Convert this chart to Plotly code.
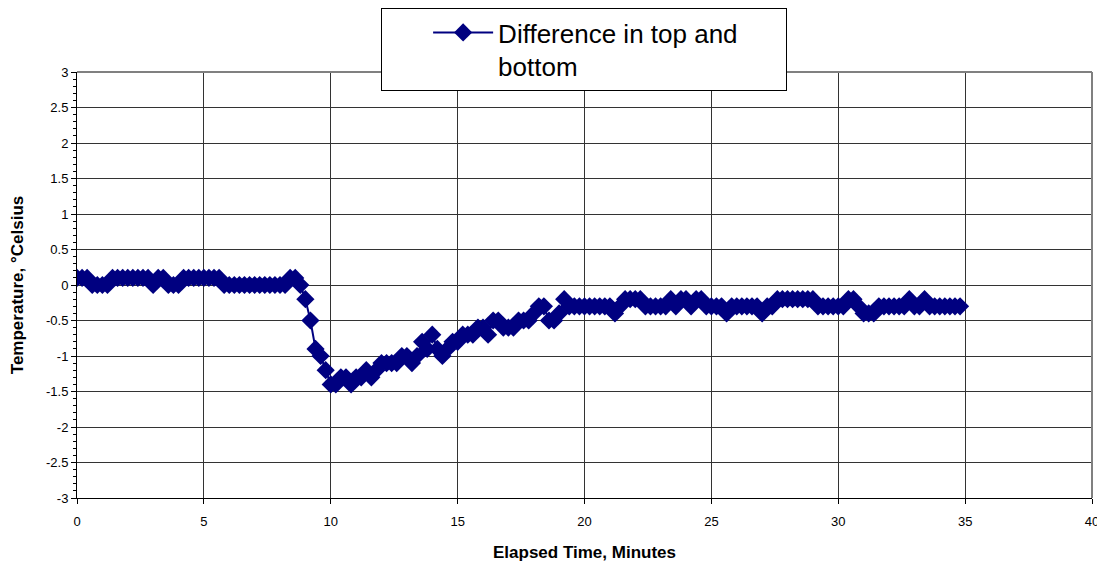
import plotly.graph_objects as go

# Elapsed time sampled every 0.2 minutes, 0 .. 34.8
time_step = 0.2
diff_values = [
    0.1, 0.1, 0.1, 0.0, 0.0, 0.0, 0.0, 0.1, 0.1, 0.1,    # 0.0 - 1.8
    0.1, 0.1, 0.1, 0.1, 0.1, 0.0, 0.1, 0.1, 0.0, 0.0,    # 2.0 - 3.8
    0.0, 0.1, 0.1, 0.1, 0.1, 0.1, 0.1, 0.1, 0.1, 0.0,    # 4.0 - 5.8
    0.0, 0.0, 0.0, 0.0, 0.0, 0.0, 0.0, 0.0, 0.0, 0.0,    # 6.0 - 7.8
    0.0, 0.0, 0.1, 0.1, 0.0, -0.2, -0.5, -0.9, -1.0, -1.2,  # 8.0 - 9.8
    -1.4, -1.4, -1.3, -1.3, -1.4, -1.3, -1.3, -1.2, -1.3, -1.2,  # 10.0 - 11.8
    -1.1, -1.1, -1.1, -1.1, -1.0, -1.0, -1.1, -1.0, -0.8, -0.9,  # 12.0 - 13.8
    -0.7, -0.9, -1.0, -0.9, -0.8, -0.8, -0.7, -0.7, -0.7, -0.6,  # 14.0 - 15.8
    -0.6, -0.7, -0.5, -0.5, -0.6, -0.6, -0.6, -0.5, -0.5, -0.5,  # 16.0 - 17.8
    -0.4, -0.3, -0.3, -0.5, -0.5, -0.4, -0.2, -0.3, -0.3, -0.3,  # 18.0 - 19.8
    -0.3, -0.3, -0.3, -0.3, -0.3, -0.3, -0.4, -0.3, -0.2, -0.2,  # 20.0 - 21.8
    -0.2, -0.2, -0.3, -0.3, -0.3, -0.3, -0.3, -0.2, -0.3, -0.2,  # 22.0 - 23.8
    -0.2, -0.3, -0.2, -0.2, -0.3, -0.3, -0.3, -0.3, -0.4, -0.3,  # 24.0 - 25.8
    -0.3, -0.3, -0.3, -0.3, -0.3, -0.4, -0.3, -0.3, -0.2, -0.2,  # 26.0 - 27.8
    -0.2, -0.2, -0.2, -0.2, -0.2, -0.2, -0.3, -0.3, -0.3, -0.3,  # 28.0 - 29.8
    -0.3, -0.3, -0.2, -0.2, -0.3, -0.4, -0.4, -0.4, -0.3, -0.3,  # 30.0 - 31.8
    -0.3, -0.3, -0.3, -0.3, -0.2, -0.3, -0.3, -0.2, -0.3, -0.3,  # 32.0 - 33.8
    -0.3, -0.3, -0.3, -0.3, -0.3,                                # 34.0 - 34.8
]
elapsed_minutes = [round(i * time_step, 2) for i in range(len(diff_values))]

series_name = "Difference in top and<br>bottom"
x_title = "Elapsed Time, Minutes"
y_title = "Temperature, °Celsius"
y_tick_vals = [3, 2.5, 2, 1.5, 1, 0.5, 0, -0.5, -1, -1.5, -2, -2.5, -3]
y_tick_text = ["3", "2.5", "2", "1.5", "1", "0.5", "0", "-0.5", "-1", "-1.5", "-2", "-2.5", "-3"]
x_tick_vals = [0, 5, 10, 15, 20, 25, 30, 35, 40]

FONT = "Liberation Sans, Arial, sans-serif"
NAVY = "#000080"

fig = go.Figure()
fig.add_trace(go.Scatter(
    x=elapsed_minutes, y=diff_values, mode="lines+markers", name=series_name,
    line=dict(color=NAVY, width=2),
    marker=dict(symbol="diamond", size=14, color=NAVY),
))

# the page body adds an 8px offset, so the figure is 8px smaller than the window
fig.update_layout(
    width=1097, height=562,
    margin=dict(l=69, r=13, t=64, b=72, autoexpand=False),
    paper_bgcolor="white", plot_bgcolor="white",
    font=dict(family=FONT, color="black"),
    showlegend=True,
    legend=dict(
        x=0.2995, y=1.0 + 64 / 426, xanchor="left", yanchor="top",
        orientation="h",
        bordercolor="black", borderwidth=1, bgcolor="white",
        font=dict(size=26, family=FONT, color="black"),
        title=dict(text="&nbsp;" * 5, side="left", font=dict(size=26, family=FONT)),
        valign="top", itemwidth=60,
        entrywidth=282, entrywidthmode="pixels",
        tracegroupgap=0,
    ),
    xaxis=dict(
        range=[0, 40], tickvals=x_tick_vals, ticktext=[str(v) for v in x_tick_vals],
        showgrid=True, gridcolor="#333333", gridwidth=1,
        showline=True, linecolor="black", linewidth=1,
        ticks="outside", ticklen=5, tickcolor="black",
        ticklabelstandoff=6,
        tickfont=dict(size=13, family=FONT),
        title=dict(text="<b>" + x_title + "</b>", font=dict(size=17, family=FONT), standoff=18),
        zeroline=False, automargin=False,
    ),
    yaxis=dict(
        range=[-3, 3], tickvals=y_tick_vals, ticktext=y_tick_text,
        showgrid=True, gridcolor="#333333", gridwidth=1,
        showline=True, linecolor="black", linewidth=1,
        ticks="outside", ticklen=5, tickcolor="black",
        tickfont=dict(size=13, family=FONT),
        minor=dict(dtick=0.1, ticks="outside", ticklen=3, tickcolor="black", showgrid=False),
        title=dict(text="<b>" + y_title + "</b>", font=dict(size=17, family=FONT), standoff=20),
        zeroline=False, automargin=False,
    ),
)

# plot-area frame: grey top and right edges
fig.add_shape(type="line", xref="paper", yref="paper", x0=0, x1=1, y0=1, y1=1,
              line=dict(color="#808080", width=2))
fig.add_shape(type="line", xref="paper", yref="paper", x0=1, x1=1, y0=0, y1=1,
              line=dict(color="#808080", width=2))

fig.write_html("out.html")
